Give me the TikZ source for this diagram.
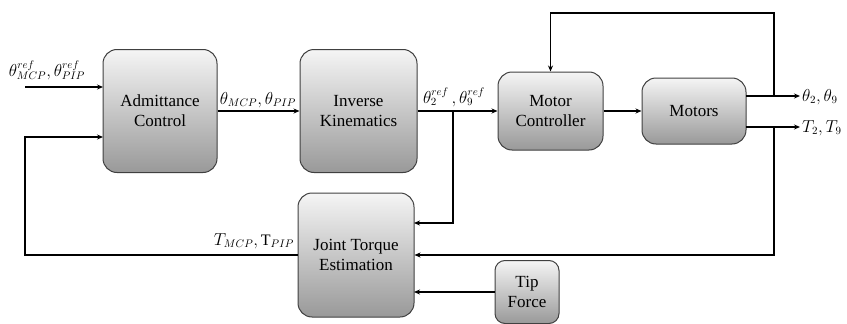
\documentclass[tikz,border=0pt]{standalone}
\usepackage{fontspec}
\setmainfont{Liberation Serif}
\newfontfamily\blkfont{Liberation Serif}
\usetikzlibrary{arrows.meta}
\begin{document}
\begin{tikzpicture}[x=1pt,y=-1pt,
  blk/.style={draw=black!75, line width=1pt, rounded corners=14pt, top color=black!4, bottom color=black!40,
    align=center, font=\blkfont\fontsize{17}{20}\selectfont, inner sep=0pt},
  conn/.style={line width=1.8pt, -{Stealth[length=6pt,width=5pt]}},
  lbl/.style={font=\fontsize{16}{18}\selectfont, inner sep=1pt}]
\useasboundingbox (0,0) rectangle (847,324);
% blocks
\node[blk, minimum width=114pt, minimum height=123pt] (adm) at (160,111) {Admittance\\Control};
\node[blk, minimum width=117pt, minimum height=123pt] (ik) at (358.5,111) {Inverse\\Kinematics};
\node[blk, minimum width=105pt, minimum height=78pt] (mc) at (550.5,111) {Motor\\Controller};
\node[blk, minimum width=104pt, minimum height=66pt] (mot) at (694,111) {Motors};
\node[blk, minimum width=116pt, minimum height=124pt] (jte) at (356,255) {Joint Torque\\Estimation};
\node[blk, rounded corners=10pt, minimum width=64pt, minimum height=63pt] (tip) at (527,292) {Tip\\Force};
% coordinates
\coordinate (in0) at (25,87);
\coordinate (admin1) at (103,87);
\coordinate (admin2) at (103,137);
\coordinate (fbl) at (25,255);
\coordinate (br) at (453,111);
\coordinate (jtein1) at (414,223);
\coordinate (jtein3) at (414,292);
\coordinate (mo1) at (746,96);
\coordinate (mo2) at (746,127);
\coordinate (out1) at (800,96);
\coordinate (out2) at (800,127);
\coordinate (tap1) at (774,96);
\coordinate (tap2) at (774,127);
\coordinate (top) at (774,13);
% connectors
\draw[conn] (in0) -- (admin1);
\draw[conn] (jte.west) -- (fbl) |- (admin2);
\draw[conn] (adm.east) -- (ik.west);
\draw[conn] (ik.east) -- (mc.west);
\draw[conn] (br) |- (jtein1);
\draw[conn] (mc.east) -- (mot.west);
\draw[conn] (mo1) -- (out1);
\draw[conn] (mo2) -- (out2);
\draw[conn] (tap1) -- (top) -| (mc.north);
\draw[conn] (tap2) |- (jte.east);
\draw[conn] (tip.west) -- (jtein3);
% labels
\node[lbl] (l1) at (47,70) {$\theta^{ref}_{MCP},\theta^{ref}_{PIP}$};
\node[lbl] (l2) at (258,100) {$\theta_{MCP},\theta_{PIP}$};
\node[lbl] (l3) at (454,97) {$\theta_2^{ref}\,,\theta_9^{ref}$};
\node[lbl] (l4) at (254,241) {$T_{MCP},\mathrm{T}_{PIP}$};
\node[lbl, anchor=west] (l5) at (801,97) {$\theta_2,\theta_9$};
\node[lbl, anchor=west] (l6) at (801,128) {$T_2,T_9$};
\end{tikzpicture}
\end{document}
